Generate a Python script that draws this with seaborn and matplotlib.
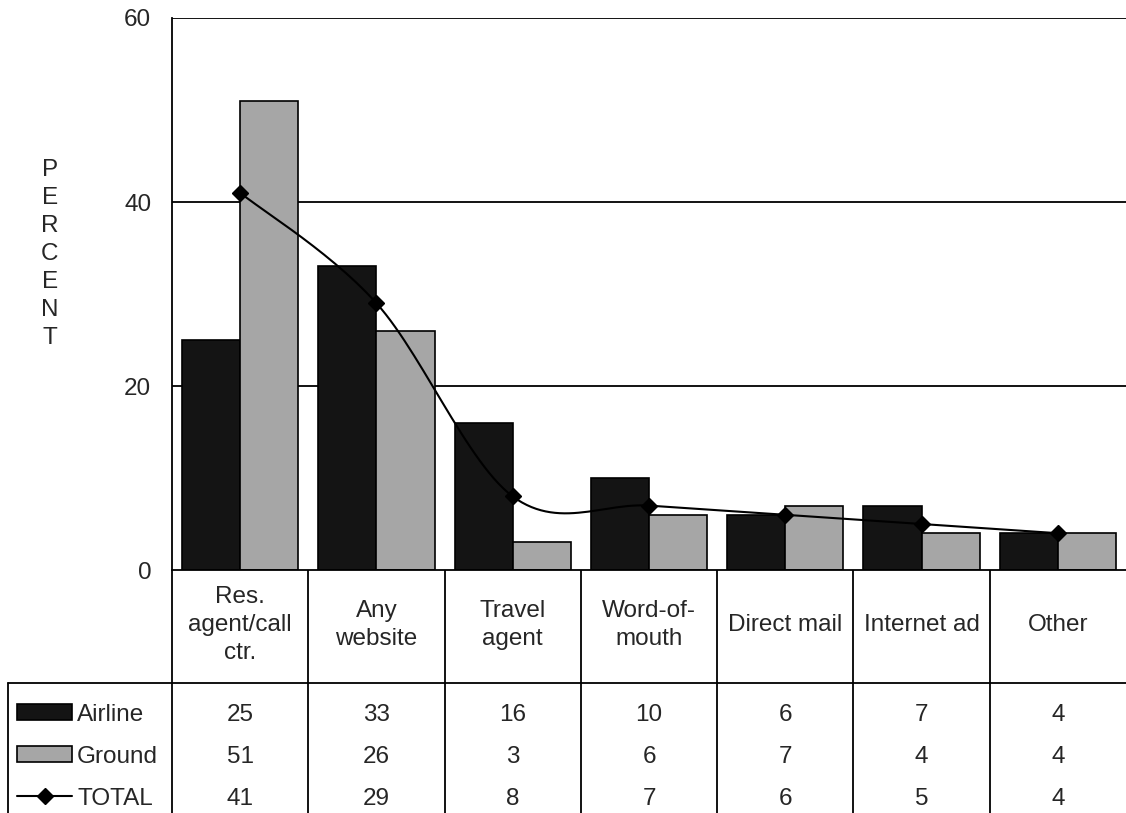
import numpy as np
import pandas as pd
import matplotlib
matplotlib.use("Agg")
import matplotlib.pyplot as plt
import seaborn as sns

# datos
sources = ["Res.\nagent/call\nctr.", "Any\nwebsite", "Travel\nagent", "Word-of-\nmouth",
           "Direct mail", "Internet ad", "Other"]
airline = [25, 33, 16, 10, 6, 7, 4]
ground = [51, 26, 3, 6, 7, 4, 4]
total = [41, 29, 8, 7, 6, 5, 4]
y_ticks = [0, 20, 40, 60]

AIR_COLOR = "#141414"
GROUND_COLOR = "#a6a6a6"
FS = 17.5

sns.set_style("white")
plt.rcParams["font.family"] = ["Liberation Sans", "DejaVu Sans"]

W, H = 1126, 813
fig = plt.figure(figsize=(W / 100, H / 100), dpi=100)

# ejes principales (coordenadas en pixeles de la figura)
left, right, top, bottom = 172, 1126, 18, 570
ax = fig.add_axes([left / W, 1 - bottom / H, (right - left) / W, (bottom - top) / H])

df = pd.DataFrame({
    "source": sources * 2,
    "pct": airline + ground,
    "series": ["Airline"] * len(sources) + ["Ground"] * len(sources),
})
sns.barplot(data=df, x="source", y="pct", hue="series",
            palette=[AIR_COLOR, GROUND_COLOR], width=0.853,
            edgecolor="black", linewidth=1.2, legend=False, ax=ax, zorder=2)


def catmull_rom(xs, ys, n=30):
    """Curva suavizada tipo Excel que pasa por todos los puntos"""
    pts = np.column_stack([xs, ys]).astype(float)
    pts = np.vstack([pts[0], pts, pts[-1]])
    out = []
    for i in range(1, len(pts) - 2):
        p0, p1, p2, p3 = pts[i - 1], pts[i], pts[i + 1], pts[i + 2]
        c1 = p1 + (p2 - p0) / 6
        c2 = p2 - (p3 - p1) / 6
        t = np.linspace(0, 1, n)[:, None]
        seg = ((1 - t) ** 3) * p1 + 3 * ((1 - t) ** 2) * t * c1 + 3 * (1 - t) * t ** 2 * c2 + t ** 3 * p2
        out.append(seg)
    out = np.vstack(out)
    return out[:, 0], out[:, 1]


xs = np.arange(len(total))
sx, sy = catmull_rom(xs, total)
ax.plot(sx, sy, color="black", lw=1.5, zorder=4)
ax.plot(xs, total, linestyle="none", marker="D", color="black", markersize=8.5, zorder=5)

ax.set_xlim(-0.5, len(sources) - 0.5)
ax.set_ylim(0, 60)
ax.set_yticks(y_ticks)
ax.set_yticklabels([str(v) for v in y_ticks], fontsize=FS)
ax.set_xticks([])
ax.set_xlabel("")
ax.set_ylabel("")
for v in y_ticks[1:]:
    ax.axhline(v, color="black", lw=1.3, zorder=1)
for s in ["top", "right"]:
    ax.spines[s].set_visible(False)
ax.spines["left"].set_color("black")
ax.spines["left"].set_linewidth(1.3)
ax.spines["bottom"].set_color("black")
ax.spines["bottom"].set_linewidth(1.3)
ax.tick_params(axis="y", direction="out", length=9, width=1.3, color="black", pad=6)
ax.patch.set_alpha(0)

fig.text(50 / W, 1 - 254 / H, "P\nE\nR\nC\nE\nN\nT", ha="center", va="center",
         fontsize=FS, linespacing=1.36)

# tabla de datos bajo el grafico
tax = fig.add_axes([0, 0, 1, (H - bottom) / H])
tax.set_xlim(0, W)
tax.set_ylim(H, bottom)
tax.axis("off")

col_w = (right - left) / len(sources)
row_top = 683
for i in range(len(sources)):
    x0 = left + i * col_w
    tax.plot([x0, x0], [bottom, H], color="black", lw=1.3)
    tax.text(x0 + col_w / 2, 625, sources[i], ha="center", va="center",
             fontsize=FS, linespacing=1.35)
tax.plot([8, W], [row_top, row_top], color="black", lw=1.3)
tax.plot([8, 8], [row_top, H], color="black", lw=1.3)

row_y = [712, 754, 796]
row_vals = [airline, ground, total]
row_names = ["Airline", "Ground", "TOTAL"]
for ry, vals, name in zip(row_y, row_vals, row_names):
    for i, v in enumerate(vals):
        tax.text(left + i * col_w + col_w / 2, ry, str(v), ha="center", va="center_baseline",
                 fontsize=FS)
    tax.text(77, ry, name, ha="left", va="center_baseline", fontsize=FS)

tax.add_patch(plt.Rectangle((17, row_y[0] - 8), 55, 16, facecolor=AIR_COLOR, edgecolor="black", lw=1.2))
tax.add_patch(plt.Rectangle((17, row_y[1] - 8), 55, 16, facecolor=GROUND_COLOR, edgecolor="black", lw=1.2))
tax.plot([17, 72], [row_y[2], row_y[2]], color="black", lw=1.5)
tax.plot([44.5], [row_y[2]], marker="D", color="black", markersize=8.5)

fig.savefig("out.png", dpi=100)
